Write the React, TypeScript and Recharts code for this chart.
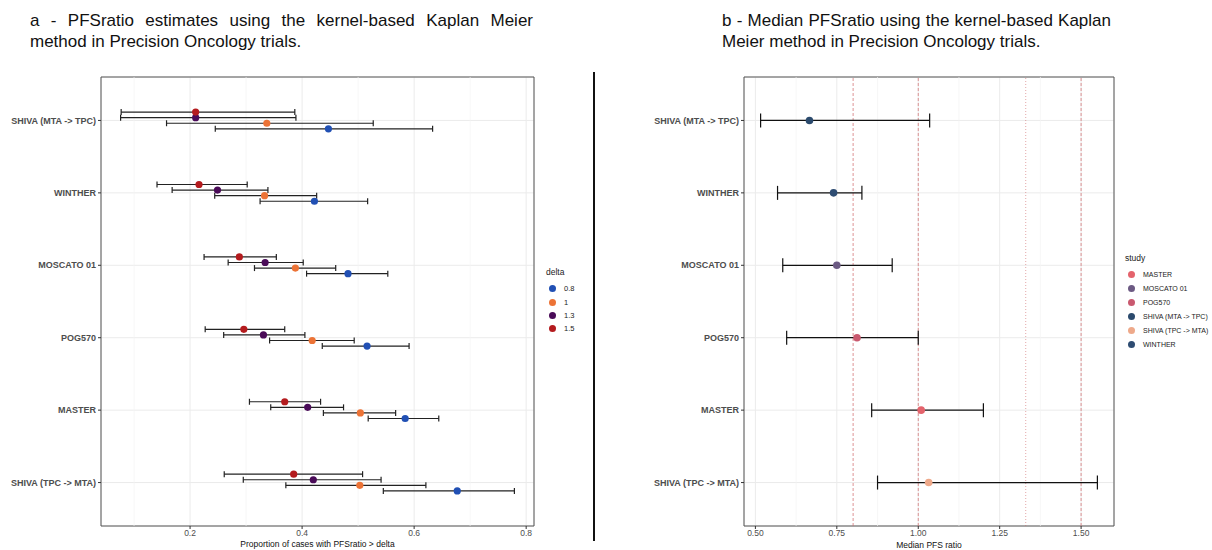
import * as React from 'react'
import {
  CartesianGrid,
  ErrorBar,
  ReferenceArea,
  ReferenceLine,
  Scatter,
  ScatterChart,
  XAxis,
  YAxis,
} from 'recharts'

// study order, top to bottom
const studies = ['SHIVA (MTA -> TPC)', 'WINTHER', 'MOSCATO 01', 'POG570', 'MASTER', 'SHIVA (TPC -> MTA)']

// panel a: proportion of cases with PFSratio > delta (estimate, lower, upper)
const est08 = [0.447, 0.422, 0.482, 0.516, 0.584, 0.677]
const lo08 = [0.245, 0.325, 0.408, 0.436, 0.518, 0.545]
const hi08 = [0.633, 0.517, 0.553, 0.591, 0.644, 0.779]

const est10 = [0.337, 0.333, 0.388, 0.418, 0.504, 0.503]
const lo10 = [0.158, 0.244, 0.315, 0.342, 0.438, 0.371]
const hi10 = [0.527, 0.426, 0.46, 0.493, 0.567, 0.621]

const est13 = [0.21, 0.249, 0.334, 0.331, 0.41, 0.42]
const lo13 = [0.076, 0.168, 0.268, 0.26, 0.344, 0.295]
const hi13 = [0.389, 0.339, 0.402, 0.405, 0.474, 0.541]

const est15 = [0.21, 0.216, 0.288, 0.296, 0.369, 0.385]
const lo15 = [0.077, 0.141, 0.225, 0.227, 0.306, 0.261]
const hi15 = [0.387, 0.302, 0.354, 0.369, 0.433, 0.508]

const deltaTicks = [0.2, 0.4, 0.6, 0.8]
const deltaMinor = [0.1, 0.3, 0.5, 0.7]

// panel b: median PFS ratio (estimate, lower, upper)
const medEst = [0.666, 0.74, 0.75, 0.812, 1.009, 1.032]
const medLo = [0.516, 0.568, 0.584, 0.596, 0.857, 0.875]
const medHi = [1.035, 0.827, 0.92, 1.0, 1.2, 1.55]
const medRefs = [0.8, 1, 1.33, 1.5]
const medTicks = [0.5, 0.75, 1, 1.25, 1.5]
const medMinor = [0.625, 0.875, 1.125, 1.375]

const legendStudies = ['MASTER', 'MOSCATO 01', 'POG570', 'SHIVA (MTA -> TPC)', 'SHIVA (TPC -> MTA)', 'WINTHER']

const FONT = '"Liberation Sans", Arial, Helvetica, sans-serif'
const GRID = '#ebebeb'
const MINOR = '#f4f4f4'
const BORDER = '#555'
const TICK_FILL = '#4d4d4d'

const deltaSeries = [
  { name: '0.8', est: est08, lo: lo08, hi: hi08, color: '#2150b4', dodge: 0.1155 },
  { name: '1', est: est10, lo: lo10, hi: hi10, color: '#ec7336', dodge: 0.0385 },
  { name: '1.3', est: est13, lo: lo13, hi: hi13, color: '#4a0b58', dodge: -0.0385 },
  { name: '1.5', est: est15, lo: lo15, hi: hi15, color: '#b41b1e', dodge: -0.1155 },
]

const studyColors: Record<string, string> = {
  MASTER: '#e4636c',
  'MOSCATO 01': '#6c5a83',
  POG570: '#c9596f',
  'SHIVA (MTA -> TPC)': '#2b4a6d',
  'SHIVA (TPC -> MTA)': '#eea98a',
  WINTHER: '#2e4c72',
}

function rows(est: number[], lo: number[], hi: number[], dodge = 0) {
  return est.map((v, i) => ({
    x: v,
    y: i + dodge,
    err: [v - lo[i], hi[i] - v],
    study: studies[i],
  }))
}

const dot = (r: number, fill: (p: any) => string) => (props: any) =>
  props.cx == null ? null : <circle cx={props.cx} cy={props.cy} r={r} fill={fill(props)} />

// single-line study label (recharts would otherwise wrap it)
const StudyTick = (props: any) => {
  const { x, y, payload } = props
  return (
    <text
      x={x}
      y={y}
      dy="0.35em"
      textAnchor="end"
      fontSize={9}
      fontWeight={700}
      fill={TICK_FILL}
      fontFamily={FONT}
    >
      {studies[payload.value] ?? ''}
    </text>
  )
}

const xTick = { fontSize: 8.5, fill: TICK_FILL, fontFamily: FONT }

function PanelA() {
  const domain: [number, number] = [0.041, 0.814]
  return (
    <ScatterChart
      width={600}
      height={550}
      margin={{ top: 77, right: 66, bottom: 4, left: 1 }}
    >
      <CartesianGrid stroke={GRID} strokeWidth={1} />
      {deltaMinor.map((v) => (
        <ReferenceLine key={v} x={v} stroke={MINOR} strokeWidth={0.7} />
      ))}
      <XAxis
        type="number"
        dataKey="x"
        domain={domain}
        ticks={deltaTicks}
        allowDataOverflow
        tickFormatter={(v: number) => String(v)}
        tick={xTick}
        tickSize={3}
        tickMargin={1}
        tickLine={{ stroke: '#333' }}
        axisLine={false}
        height={20}
      />
      <YAxis
        type="number"
        dataKey="y"
        reversed
        domain={[-0.6, 5.6]}
        ticks={[0, 1, 2, 3, 4, 5]}
        allowDataOverflow
        tick={<StudyTick />}
        tickSize={3}
        tickMargin={2}
        tickLine={{ stroke: '#333' }}
        axisLine={false}
        width={100}
      />
      <ReferenceArea x1={domain[0]} x2={domain[1]} y1={-0.6} y2={5.6} fill="none" stroke={BORDER} strokeWidth={1} />
      {deltaSeries.map((s) => (
        <Scatter
          key={s.name}
          name={s.name}
          data={rows(s.est, s.lo, s.hi, s.dodge)}
          shape={dot(3.6, () => s.color)}
          isAnimationActive={false}
        >
          <ErrorBar dataKey="err" direction="x" width={3} stroke="#222" strokeWidth={1.2} />
        </Scatter>
      ))}
    </ScatterChart>
  )
}

function PanelB() {
  const domain: [number, number] = [0.465, 1.601]
  return (
    <ScatterChart
      width={612}
      height={550}
      margin={{ top: 77, right: 98, bottom: 4, left: 44 }}
    >
      <CartesianGrid stroke={GRID} strokeWidth={1} />
      {medMinor.map((v) => (
        <ReferenceLine key={v} x={v} stroke={MINOR} strokeWidth={0.7} />
      ))}
      {medRefs.map((v) => (
        <ReferenceLine
          key={v}
          x={v}
          stroke="#d06a6c"
          strokeWidth={0.8}
          strokeDasharray={v === 1.33 ? '1 2' : '3 2'}
          strokeOpacity={v === 1.33 ? 0.75 : 0.9}
        />
      ))}
      <XAxis
        type="number"
        dataKey="x"
        domain={domain}
        ticks={medTicks}
        allowDataOverflow
        tickFormatter={(v: number) => v.toFixed(2)}
        tick={xTick}
        tickSize={3}
        tickMargin={1}
        tickLine={{ stroke: '#333' }}
        axisLine={false}
        height={20}
      />
      <YAxis
        type="number"
        dataKey="y"
        reversed
        domain={[-0.6, 5.6]}
        ticks={[0, 1, 2, 3, 4, 5]}
        allowDataOverflow
        tick={<StudyTick />}
        tickSize={3}
        tickMargin={2}
        tickLine={{ stroke: '#333' }}
        axisLine={false}
        width={100}
      />
      <ReferenceArea x1={domain[0]} x2={domain[1]} y1={-0.6} y2={5.6} fill="none" stroke={BORDER} strokeWidth={1} />
      <Scatter
        name="median"
        data={rows(medEst, medLo, medHi)}
        shape={dot(3.8, (p) => studyColors[p.payload?.study] ?? '#333')}
        isAnimationActive={false}
      >
        <ErrorBar dataKey="err" direction="x" width={7} stroke="#111" strokeWidth={1.2} />
      </Scatter>
    </ScatterChart>
  )
}

function Legend({
  title,
  items,
  colors,
  left,
  top,
  step,
  fontSize,
}: {
  title: string
  items: string[]
  colors: string[]
  left: number
  top: number
  step: number
  fontSize: number
}) {
  return (
    <div style={{ position: 'absolute', left, top, fontFamily: FONT, color: '#222' }}>
      <div style={{ fontSize: 8.5, lineHeight: '10px', marginBottom: 5 }}>{title}</div>
      {items.map((it, i) => (
        <div key={it} style={{ display: 'flex', alignItems: 'center', height: step, whiteSpace: 'nowrap' }}>
          <span
            style={{
              display: 'inline-block',
              width: 7,
              height: 7,
              borderRadius: '50%',
              background: colors[i],
              marginLeft: 3,
              marginRight: 8,
            }}
          />
          <span style={{ fontSize }}>{it}</span>
        </div>
      ))}
    </div>
  )
}

const titleStyle: React.CSSProperties = {
  position: 'absolute',
  fontFamily: FONT,
  fontSize: 17,
  lineHeight: '21px',
  color: '#111',
}

export default function App() {
  return (
    <div
      style={{
        position: 'absolute',
        left: 0,
        top: 0,
        width: 1212,
        height: 550,
        background: '#fff',
        overflow: 'hidden',
        fontFamily: FONT,
      }}
    >
      <div style={{ ...titleStyle, left: 30, top: 10, width: 503 }}>
        <div style={{ textAlign: 'justify', textAlignLast: 'justify' }}>
          a - PFSratio estimates using the kernel-based Kaplan Meier
        </div>
        <div>method in Precision Oncology trials.</div>
      </div>
      <div style={{ ...titleStyle, left: 722, top: 10, width: 389 }}>
        <div style={{ textAlign: 'justify', textAlignLast: 'justify' }}>
          b - Median PFSratio using the kernel-based Kaplan
        </div>
        <div>Meier method in Precision Oncology trials.</div>
      </div>

      <div style={{ position: 'absolute', left: 0, top: 0 }}>
        <PanelA />
      </div>
      <div style={{ position: 'absolute', left: 600, top: 0 }}>
        <PanelB />
      </div>

      <div style={{ position: 'absolute', left: 593, top: 72, width: 1.5, height: 469, background: '#111' }} />

      <div style={{ position: 'absolute', left: 101, width: 433, top: 539, textAlign: 'center', fontSize: 8.5, color: '#111' }}>
        Proportion of cases with PFSratio &gt; delta
      </div>
      <div style={{ position: 'absolute', left: 744, width: 370, top: 540, textAlign: 'center', fontSize: 8.5, color: '#111' }}>
        Median PFS ratio
      </div>

      <Legend
        title="delta"
        items={deltaSeries.map((s) => s.name)}
        colors={deltaSeries.map((s) => s.color)}
        left={546}
        top={267}
        step={13.4}
        fontSize={7.5}
      />
      <Legend
        title="study"
        items={legendStudies}
        colors={legendStudies.map((s) => studyColors[s])}
        left={1125}
        top={253}
        step={13.9}
        fontSize={7}
      />
    </div>
  )
}
